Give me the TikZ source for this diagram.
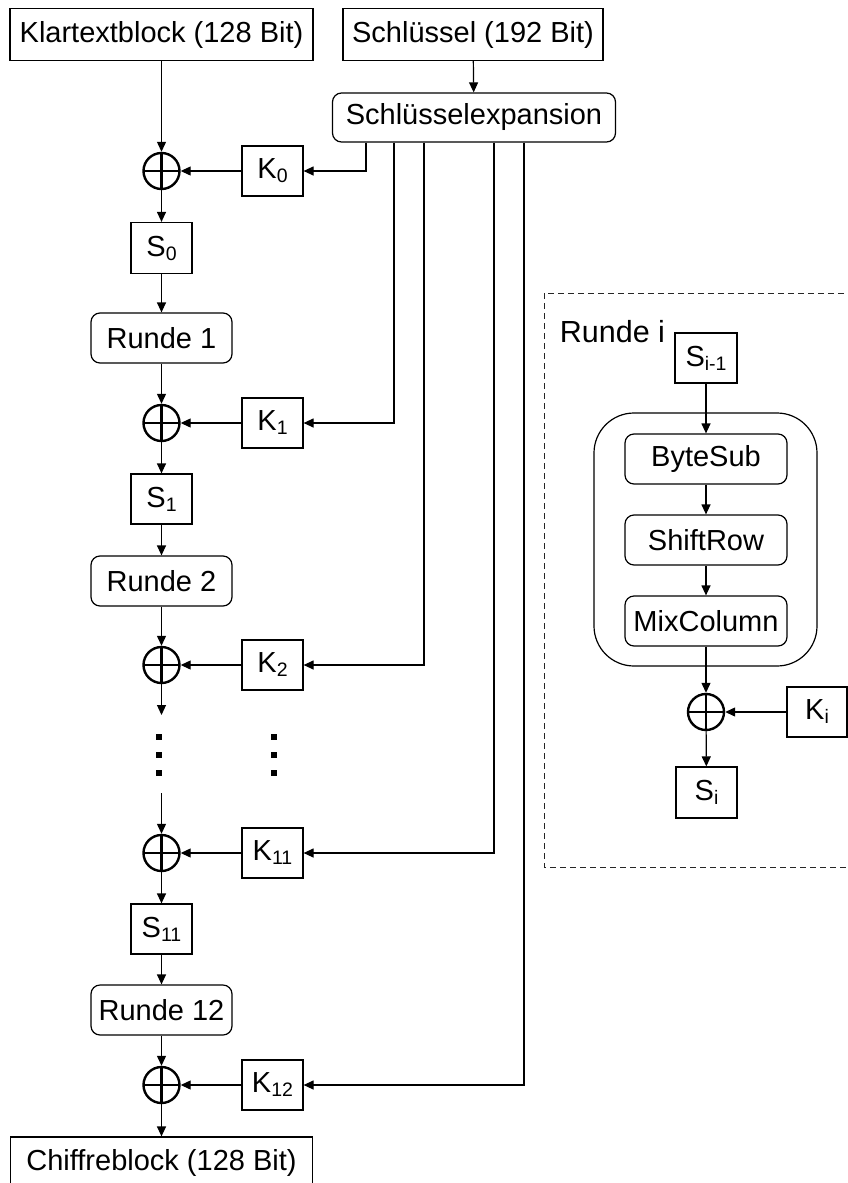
\documentclass[tikz,border=0pt]{standalone}
\usepackage{fontspec}
\setmainfont{Liberation Sans}
\usetikzlibrary{arrows.meta}
\newcommand{\sbs}[1]{\raisebox{-4pt}{\fontsize{19.5}{19.5}\selectfont #1}}
\begin{document}
\begin{tikzpicture}[x=1pt,y=-1pt,
  font=\fontsize{29}{33}\selectfont,
  line width=1.2pt,
  arr/.style={-{Triangle[length=10pt,width=9pt]}},
  box/.style={draw, inner sep=0pt, minimum width=61pt, minimum height=50pt},
  rbox/.style={draw, rounded corners=9pt, inner sep=0pt, minimum width=141pt, minimum height=50pt},
  xor/.style={circle, draw, line width=2.4pt, minimum size=36pt, inner sep=0pt,
    path picture={\draw[line width=2.4pt] (path picture bounding box.north) -- (path picture bounding box.south)
      (path picture bounding box.west) -- (path picture bounding box.east);}},
  dotsq/.style={fill, inner sep=0pt, minimum size=5.5pt},
  frame/.style={draw=black!85, line width=1pt, dash pattern=on 6pt off 4pt}
]
\useasboundingbox (0,0) rectangle (848,1183);

% dashed frame for "Runde i"
\draw[frame] (544,293) rectangle (870,867);
\node[anchor=base west, font=\fontsize{30.5}{34}\selectfont] (rl) at (556,342) {Runde i};

% top
\node[box, minimum width=303pt, minimum height=52pt] (kt) at (161.5,34.5) {Klartextblock (128 Bit)};
\node[box, minimum width=260pt, minimum height=52pt] (sk) at (473,34.5) {Schlüssel (192 Bit)};
\node[rbox, minimum width=283pt, minimum height=49pt] (ke) at (474,117.5) {Schlüsselexpansion};

% left column
\node[xor] (x0) at (161.5,171) {};
\node[box] (k0) at (272.5,171) {K\sbs{0}};
\node[box, minimum height=51pt] (s0) at (161.5,248) {S\sbs{0}};
\node[rbox] (r1) at (161.5,338) {Runde 1};
\node[xor] (x1) at (161.5,423) {};
\node[box] (k1) at (272.5,423) {K\sbs{1}};
\node[box] (s1) at (161.5,499) {S\sbs{1}};
\node[rbox] (r2) at (161.5,581) {Runde 2};
\node[xor] (x2) at (161.5,665) {};
\node[box] (k2) at (272.5,665) {K\sbs{2}};
\coordinate (e2) at (161.5,715);
\node[dotsq] (d1) at (159,737) {};
\node[dotsq] (d2) at (159,755) {};
\node[dotsq] (d3) at (159,773) {};
\node[dotsq] (d4) at (274,737) {};
\node[dotsq] (d5) at (274,755) {};
\node[dotsq] (d6) at (274,773) {};
\coordinate (b11) at (161.5,793);
\node[xor] (x11) at (161.5,853) {};
\node[box] (k11) at (272.5,853) {K\sbs{11}};
\node[box] (s11) at (161.5,929) {S\sbs{11}};
\node[rbox] (r12) at (161.5,1010) {Runde 12};
\node[xor] (x12) at (161.5,1085) {};
\node[box] (k12) at (272.5,1085) {K\sbs{12}};
\node[box, minimum width=302pt, minimum height=52pt] (cb) at (161.5,1163) {Chiffreblock (128 Bit)};

% key taps
\coordinate (c0) at (366,0);
\coordinate (c1) at (394,0);
\coordinate (c2) at (424,0);
\coordinate (c11) at (494,0);
\coordinate (c12) at (524,0);

% connectors main chain
\draw[arr] (sk) -- (ke);
\draw[arr] (kt) -- (x0);
\draw[arr] (x0) -- (s0);
\draw[arr] (s0) -- (r1);
\draw[arr] (r1) -- (x1);
\draw[arr] (x1) -- (s1);
\draw[arr] (s1) -- (r2);
\draw[arr] (r2) -- (x2);
\draw[arr] (x2) -- (e2);
\draw[arr] (b11) -- (x11);
\draw[arr] (x11) -- (s11);
\draw[arr] (s11) -- (r12);
\draw[arr] (r12) -- (x12);
\draw[arr] (x12) -- (cb);

\draw[arr] (k0) -- (x0);
\draw[arr] (k1) -- (x1);
\draw[arr] (k2) -- (x2);
\draw[arr] (k11) -- (x11);
\draw[arr] (k12) -- (x12);

\draw[arr] (ke.south -| c0) |- (k0.east);
\draw[arr] (ke.south -| c1) |- (k1.east);
\draw[arr] (ke.south -| c2) |- (k2.east);
\draw[arr] (ke.south -| c11) |- (k11.east);
\draw[arr] (ke.south -| c12) |- (k12.east);

% Runde i detail
\node[box, minimum width=62pt] (si1) at (706,358) {S\sbs{i-1}};
\node[draw, rounded corners=40pt, minimum width=223pt, minimum height=253pt, inner sep=0pt] (big) at (705.5,539.5) {};
\node[rbox, minimum width=162pt] (bs) at (706,459) {ByteSub};
\node[rbox, minimum width=162pt] (sr) at (706,540) {ShiftRow};
\node[rbox, minimum width=162pt] (mc) at (706,621) {MixColumn};
\node[xor] (xi) at (706,712) {};
\node[box, minimum width=60pt] (ki) at (817,712) {K\sbs{i}};
\node[box, minimum height=51pt] (si) at (706.5,792.5) {S\sbs{i}};

\draw[arr] (si1) -- (bs);
\draw[arr] (bs) -- (sr);
\draw[arr] (sr) -- (mc);
\draw[arr] (mc) -- (xi);
\draw[arr] (ki) -- (xi);
\draw[arr] (xi) -- (si);
\end{tikzpicture}
\end{document}
